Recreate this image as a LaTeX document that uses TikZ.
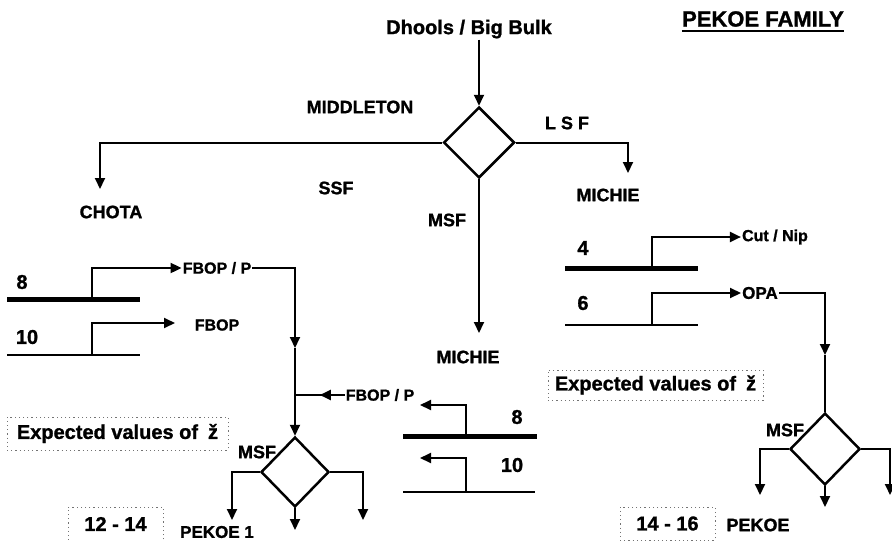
\documentclass[tikz,border=0pt]{standalone}
\usepackage{fontspec}
\setmainfont{Liberation Sans}[BoldFeatures={FakeBold=1.2}]
\usetikzlibrary{arrows.meta,shapes.geometric,decorations.markings}
\begin{document}
\begin{tikzpicture}[x=1pt,y=-1pt,
  lab/.style={inner sep=1pt, font=\fontsize{18}{20}\selectfont\bfseries},
  big/.style={inner sep=1pt, font=\fontsize{20}{22}\selectfont\bfseries},
  small/.style={inner sep=1pt, font=\fontsize{16}{18}\selectfont\bfseries},
  conn/.style={line width=2pt, -{Triangle[length=11pt,width=10pt]}},
  plain/.style={line width=2pt},
  dia/.style={diamond, draw, line width=2.5pt, inner sep=0pt},
  thickbar/.style={line width=5pt},
  thinbar/.style={line width=2.5pt},
  dotbox/.style={draw=black!55, line width=0.8pt, dash pattern=on 1.2pt off 3pt}
]
\useasboundingbox (0,0) rectangle (892,541);

% top
\node[big] (dhools) at (469,29) {Dhools / Big Bulk};
\node[inner sep=0pt, font=\fontsize{22}{24}\selectfont\bfseries] (pekoe) at (763,19) {PEKOE FAMILY};
\draw[line width=1.6pt] ([yshift=-4pt]pekoe.south west) -- ([yshift=-4pt]pekoe.south east);

\node[dia, minimum width=71pt, minimum height=71pt] (d1) at (479,142.5) {};
\node[lab] (middleton) at (360,107) {MIDDLETON};
\node[lab] (lsf) at (567,123) {L S F};
\node[lab] (ssf) at (336,188) {SSF};
\node[lab] (msf1) at (447,220) {MSF};
\node[lab] (chota) at (111,212) {CHOTA};
\node[lab] (michie1) at (608,195) {MICHIE};
\node[lab] (michie2) at (468,357) {MICHIE};
\coordinate (achota) at (100,189);
\coordinate (amichie1) at (628,173);
\coordinate (amsf) at (479,333);
\draw[conn] (dhools.south -| d1.north) -- (d1.north);
\draw[conn] (d1.west) -| (achota);
\draw[conn] (d1.east) -| (amichie1);
\draw[conn] (d1.south) -- (amsf);

% left block
\node[dia, minimum width=68pt, minimum height=70pt] (d2) at (295,472) {};
\node[big] (n8a) at (22,282) {8};
\coordinate (b8aL) at (7,299); \coordinate (b8aR) at (140,299);
\draw[thickbar] (b8aL) -- (b8aR);
\coordinate (t8a) at (92,299);
\node[small] (fbopP1) at (217,268) {FBOP / P};
\draw[conn] (t8a) |- (fbopP1.west);
\coordinate (kL) at (295,348);
\draw[conn] (fbopP1.east) -| (kL);
\draw[conn] (kL) -- (d2.north);

\node[big] (n10a) at (27,337) {10};
\coordinate (b10aL) at (7,355); \coordinate (b10aR) at (140,355);
\draw[thinbar] (b10aL) -- (b10aR);
\coordinate (t10a) at (92,355);
\coordinate (afbop) at (175,323);
\draw[conn] (t10a) |- (afbop);
\node[small] (fbop) at (217,325) {FBOP};

\node[big, dotbox, inner sep=0pt, minimum width=221pt, minimum height=33pt] (exp1) at (117.5,433.5) {Expected values of\hspace{10pt}ž};

\node[lab] (msf2) at (257,452) {MSF};
\coordinate (aL1) at (232,520);
\coordinate (aL2) at (295,530);
\coordinate (aL3) at (363,520);
\draw[conn] (d2.west) -| (aL1);
\draw[conn] (d2.south) -- (aL2);
\draw[conn] (d2.east) -| (aL3);
\node[big, dotbox, inner sep=0pt, minimum width=95pt, minimum height=34pt] (r1) at (115.5,524) {12 - 14};
\node[inner sep=1pt, font=\fontsize{17}{19}\selectfont\bfseries] (pk1) at (217,532) {PEKOE 1};

% middle block
\node[small] (fbopP2) at (380,395) {FBOP / P};
\draw[plain, postaction={decorate}, decoration={markings, mark=at position 0.5 with {\arrow{Triangle[length=11pt,width=10pt]}}}] (fbopP2.west) -- (fbopP2.west -| d2.north);
\node[big] (n8b) at (517,417) {8};
\coordinate (b8bL) at (403,436); \coordinate (b8bR) at (537,436);
\draw[thickbar] (b8bL) -- (b8bR);
\coordinate (t8b) at (466,436); \coordinate (a8b) at (420,405);
\draw[conn] (t8b) |- (a8b);
\node[big] (n10b) at (512,465) {10};
\coordinate (b10bL) at (403,492); \coordinate (b10bR) at (535,492);
\draw[thinbar] (b10bL) -- (b10bR);
\coordinate (t10b) at (466,492); \coordinate (a10b) at (420,458);
\draw[conn] (t10b) |- (a10b);
\node[big, dotbox, inner sep=0pt, minimum width=215pt, minimum height=30pt] (exp2) at (655.5,385) {Expected values of\hspace{10pt}ž};

% right block
\node[big] (n4) at (583,248) {4};
\coordinate (b4L) at (565,268); \coordinate (b4R) at (698,268);
\draw[thickbar] (b4L) -- (b4R);
\node[small] (cutnip) at (775,237) {Cut / Nip};
\coordinate (t4) at (652,268);
\draw[conn] (t4) |- (cutnip.west);
\node[big] (n6) at (583,303) {6};
\coordinate (b6L) at (565,325); \coordinate (b6R) at (698,325);
\draw[thinbar] (b6L) -- (b6R);
\node[inner sep=1pt, font=\fontsize{17}{19}\selectfont\bfseries] (opa) at (760,293) {OPA};
\coordinate (t6) at (652,325);
\draw[conn] (t6) |- (opa.west);
\node[dia, minimum width=70pt, minimum height=72pt] (d3) at (825,449) {};
\coordinate (kR) at (825,355);
\draw[conn] (opa.east) -| (kR);
\draw[plain] (kR) -- (d3.north);
\node[lab] (msf3) at (785,430) {MSF};
\coordinate (aR1) at (760,495);
\coordinate (aR2) at (825,507);
\coordinate (aR3) at (890,495);
\draw[conn] (d3.west) -| (aR1);
\draw[conn] (d3.south) -- (aR2);
\draw[conn] (d3.east) -| (aR3);
\node[big, dotbox, inner sep=0pt, minimum width=95pt, minimum height=33pt] (r2) at (667.5,523.5) {14 - 16};
\node[lab] (pk2) at (758,525) {PEKOE};
\end{tikzpicture}
\end{document}
